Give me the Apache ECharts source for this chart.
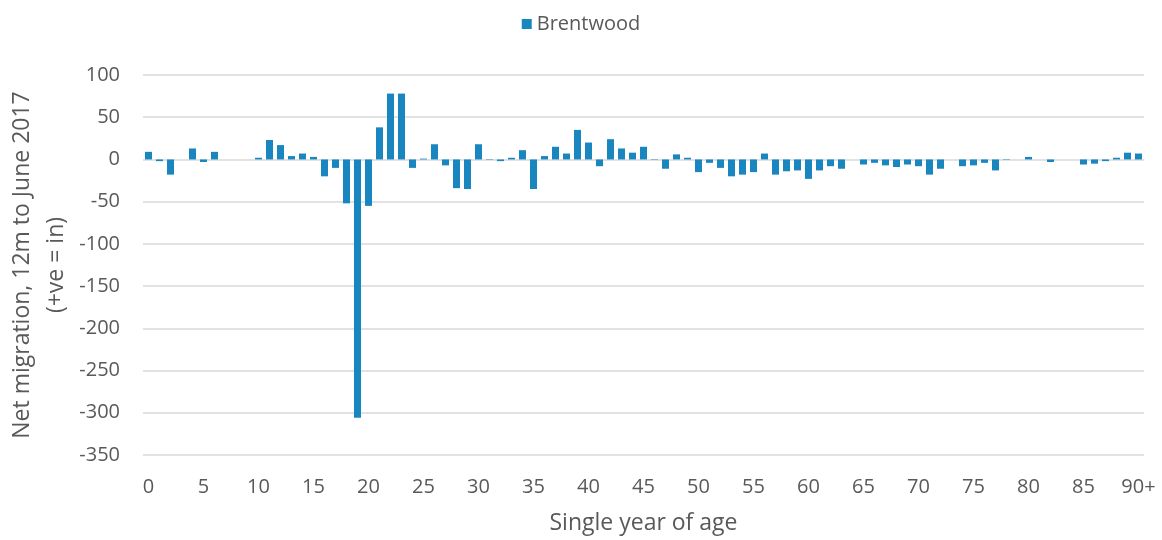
<!DOCTYPE html>
<html>
<head>
<meta charset="utf-8">
<script src="https://cdn.jsdelivr.net/npm/echarts@6/dist/echarts.min.js"></script>
<style>html,body{margin:0;padding:0;background:#fff}#c{width:1162px;height:540px}</style>
</head>
<body>
<div id="c"></div>
<script>
const seriesName = 'Brentwood';
const ages = [];
for (let i = 0; i < 90; i++) ages.push(String(i));
ages.push('90+');
const netMigration = [
  9, -2, -18, 0, 13, -3, 9, 0, 0, 0,
  2, 23, 17, 4, 7, 3, -20, -10, -52, -306,
  -55, 38, 78, 78, -10, 1, 18, -7, -34, -35,
  18, 0.5, -2, 2, 11, -35, 4, 15, 7, 35,
  20, -8, 24, 13, 8, 15, 0.5, -11, 6, 2,
  -15, -4, -10, -20, -18, -15, 7, -18, -14, -13,
  -23, -13, -8, -11, 0, -6, -4, -7, -9, -6,
  -8, -18, -11, 0, -8, -7, -4, -13, 0.5, 0,
  3, 0, -3, 0, 0, -6, -5, -2, 2, 8,
  7
];
const yMin = -350, yMax = 100, yStep = 50;
const xTitle = 'Single year of age';
const yTitle = 'Net migration, 12m to June 2017\n(+ve = in)';

const FONT = '"Open Sans", sans-serif';
const TXT = '#595959';
const chart = echarts.init(document.getElementById('c'));
chart.setOption({
  animation: false,
  textStyle: { fontFamily: FONT },
  legend: {
    top: 9, left: 'center',
    itemWidth: 10, itemHeight: 10, itemGap: 6,
    icon: 'rect',
    textStyle: { fontSize: 20, color: TXT, fontFamily: FONT },
    data: [seriesName]
  },
  grid: { left: 143, right: 18, top: 75, bottom: 85, containLabel: false, outerBoundsMode: 'none' },
  xAxis: {
    type: 'category',
    data: ages,
    axisLine: { show: false },
    axisTick: { show: false },
    axisLabel: {
      interval: 4, margin: 22, fontSize: 20, color: TXT, fontFamily: FONT
    },
    name: xTitle, nameLocation: 'middle', nameGap: 57, nameMoveOverlap: false,
    nameTextStyle: { fontSize: 23, color: TXT, fontFamily: FONT }
  },
  yAxis: {
    type: 'value', min: yMin, max: yMax, interval: yStep,
    axisLine: { show: false }, axisTick: { show: false },
    axisLabel: { margin: 23, fontSize: 20, color: TXT, fontFamily: FONT },
    splitLine: { lineStyle: { color: '#d9d9d9', width: 1.5 } },
    name: yTitle, nameLocation: 'middle', nameGap: 70, nameMoveOverlap: false,
    nameTextStyle: { fontSize: 23, color: TXT, fontFamily: FONT, lineHeight: 34, align: 'center' }
  },
  series: [{
    name: seriesName,
    type: 'bar',
    data: netMigration,
    barCategoryGap: '36%',
    itemStyle: { color: '#1a86c0' }
  }]
});
</script>
</body>
</html>
